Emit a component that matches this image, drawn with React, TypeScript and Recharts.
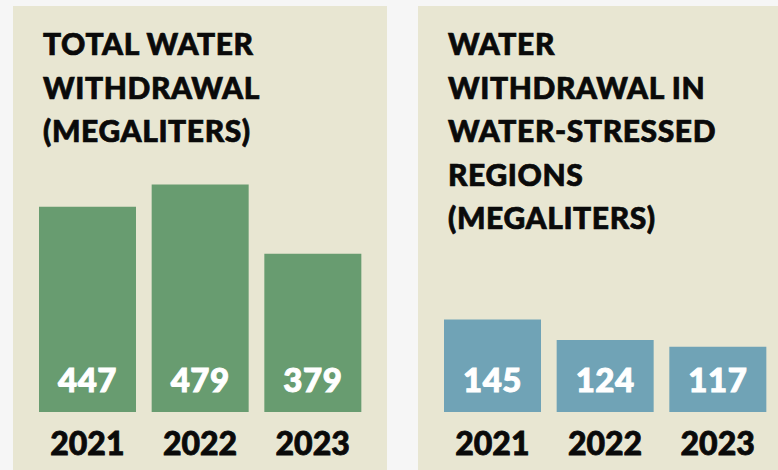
import { BarChart, Bar, XAxis, YAxis, LabelList } from 'recharts';

const years = ['2021', '2022', '2023'];
const totalWithdrawal = [447, 479, 379];
const stressedWithdrawal = [145, 124, 117];

const totalData = years.map((year, i) => ({ year, value: totalWithdrawal[i] }));
const stressedData = years.map((year, i) => ({ year, value: stressedWithdrawal[i] }));

const FONT = 'Lato, "Open Sans", sans-serif';

const YearTick = (props: any) => {
  const { x, y, payload } = props;
  return (
    <text
      x={x}
      y={y}
      dy={35}
      textAnchor="middle"
      fill="#0a0a0a"
      stroke="#0a0a0a"
      strokeWidth={0.8}
      fontFamily={FONT}
      fontWeight={900}
      fontSize={32}
    >
      {payload.value}
    </text>
  );
};

const ValueLabel = (props: any) => {
  const { x, y, width, height, value } = props;
  return (
    <text
      x={x + width / 2}
      y={y + height - 20}
      textAnchor="middle"
      fill="#ffffff"
      stroke="#ffffff"
      strokeWidth={1}
      fontFamily={FONT}
      fontWeight={900}
      fontSize={33}
      letterSpacing={0.5}
    >
      {value}
    </text>
  );
};

function Panel({ left, width, title, data, color, plotTop, domain }: any) {
  return (
    <div style={{ position: 'absolute', left, top: 6, width, height: 464, background: '#e8e6d2', overflow: 'hidden' }}>
      <div
        style={{
          position: 'absolute',
          left: 30,
          top: 16,
          fontFamily: FONT,
          fontWeight: 900,
          fontSize: 30,
          letterSpacing: 0.6,
          lineHeight: '43.5px',
          color: '#0a0a0a',
          WebkitTextStroke: '0.7px #0a0a0a',
          whiteSpace: 'pre',
        }}
      >
        {title}
      </div>
      <div style={{ position: 'absolute', left: 0, top: -6 }}>
        <BarChart width={374} height={470} data={data} margin={{ top: plotTop, right: 18, bottom: 0, left: 18 }}>
          <XAxis dataKey="year" axisLine={false} tickLine={false} height={58} tick={<YearTick />} interval={0} />
          <YAxis hide domain={domain} allowDataOverflow />
          <Bar dataKey="value" fill={color} barSize={97} isAnimationActive={false}>
            <LabelList dataKey="value" content={<ValueLabel />} />
          </Bar>
        </BarChart>
      </div>
    </div>
  );
}

export default function App() {
  return (
    <div style={{ position: 'absolute', left: 0, top: 0, width: 778, height: 470, background: '#f6f6f6', overflow: 'hidden' }}>
      <Panel
        left={13}
        width={374}
        title={'TOTAL WATER\nWITHDRAWAL\n(MEGALITERS)'}
        data={totalData}
        color="#689c70"
        plotTop={170}
        domain={[150, 500]}
      />
      <Panel
        left={418}
        width={360}
        title={'WATER\nWITHDRAWAL IN\nWATER-STRESSED\nREGIONS\n(MEGALITERS)'}
        data={stressedData}
        color="#70a3b6"
        plotTop={300}
        domain={[50, 165]}
      />
    </div>
  );
}
